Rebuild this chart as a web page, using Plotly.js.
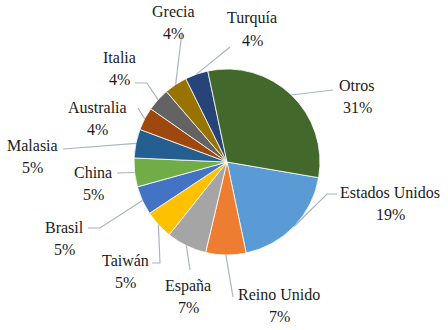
<!DOCTYPE html>
<html><head><meta charset="utf-8">
<script src="https://cdn.plot.ly/plotly-3.0.1.min.js"></script>
<style>html,body{margin:0;padding:0;background:#fff}#chart{width:448px;height:330px}</style>
</head><body><div id="chart"></div>
<script>
// Data
const countries = ["Estados Unidos","Reino Unido","España","Taiwán","Brasil","China","Malasia","Australia","Italia","Grecia","Turquía","Otros"];
const shares = [19,7,7,5,5,5,5,4,4,4,4,31];
const colors = ["#5B9BD5","#ED7D31","#A5A5A5","#FFC000","#4472C4","#70AD47","#255E91","#9E480E","#636363","#997300","#264478","#43682B"];

// Layout (pixels)
const W = 448, H = 330;
const cx = 227, cy = 162, R = 93;
const startAngle = 99.7;
const labelPos = {
  "Otros":[357,96.5], "Estados Unidos":[390,203.5], "Reino Unido":[279,305.5], "España":[188,296.5],
  "Taiwán":[125,271.5], "Brasil":[64,238.5], "China":[93,183], "Malasia":[32,156.5],
  "Australia":[97,118.5], "Italia":[119,68], "Grecia":[173,22.5], "Turquía":[252,29.5]
};
const elbows = {
  "Otros":[[333,90]], "Estados Unidos":[[337,194],[327,194]], "Reino Unido":[[233,297]], "España":[[190,270]],
  "Taiwán":[[152,263],[160,263]], "Brasil":[[88,228],[100,228]], "China":[[117,173]], "Malasia":[[63,149]],
  "Australia":[[138,108]], "Italia":[[135,83],[147,83]], "Grecia":[[182,32]], "Turquía":[[230,47]]
};

const px = (x) => x / W, py = (y) => 1 - y / H;

const total = shares.reduce((a,b)=>a+b,0);
let acc = 0;
const annotations = [], shapes = [];
countries.forEach((c,i) => {
  const mid = startAngle + (acc + shares[i]/2) / total * 360;
  acc += shares[i];
  const a = mid * Math.PI/180;
  const ex = cx + R*Math.sin(a), ey = cy - R*Math.cos(a);
  const pts = elbows[c].concat([[ex,ey]]);
  let d = pts.map((p,k)=> (k?'L':'M') + px(p[0]).toFixed(4) + ',' + py(p[1]).toFixed(4)).join(' ');
  shapes.push({type:'path', xref:'paper', yref:'paper', path:d, line:{color:'#A9B4C2', width:1.2}});
  const lp = labelPos[c];
  annotations.push({xref:'paper', yref:'paper', x:px(lp[0]), y:py(lp[1]-11), xanchor:'center', yanchor:'middle',
    showarrow:false, text: c, font:{family:'Liberation Serif', size:16, color:'#1a1a1a'}});
  annotations.push({xref:'paper', yref:'paper', x:px(lp[0]), y:py(lp[1]+11), xanchor:'center', yanchor:'middle',
    showarrow:false, text: shares[i] + '%', font:{family:'Liberation Serif', size:16, color:'#1a1a1a'}});
});

const data = [{
  type:'pie', labels:countries, values:shares, sort:false, direction:'clockwise',
  rotation:startAngle, textinfo:'none',
  marker:{colors:colors, line:{color:'#ffffff', width:0.8}},
  domain:{x:[(cx-R)/W,(cx+R)/W], y:[1-(cy+R)/H, 1-(cy-R)/H]},
  showlegend:false
}];
const layout = {width:W, height:H, margin:{l:0,r:0,t:0,b:0}, paper_bgcolor:'#fff',
  font:{family:'Liberation Serif'}, showlegend:false, annotations:annotations, shapes:shapes};
Plotly.newPlot('chart', data, layout, {displayModeBar:false});
</script></body></html>
